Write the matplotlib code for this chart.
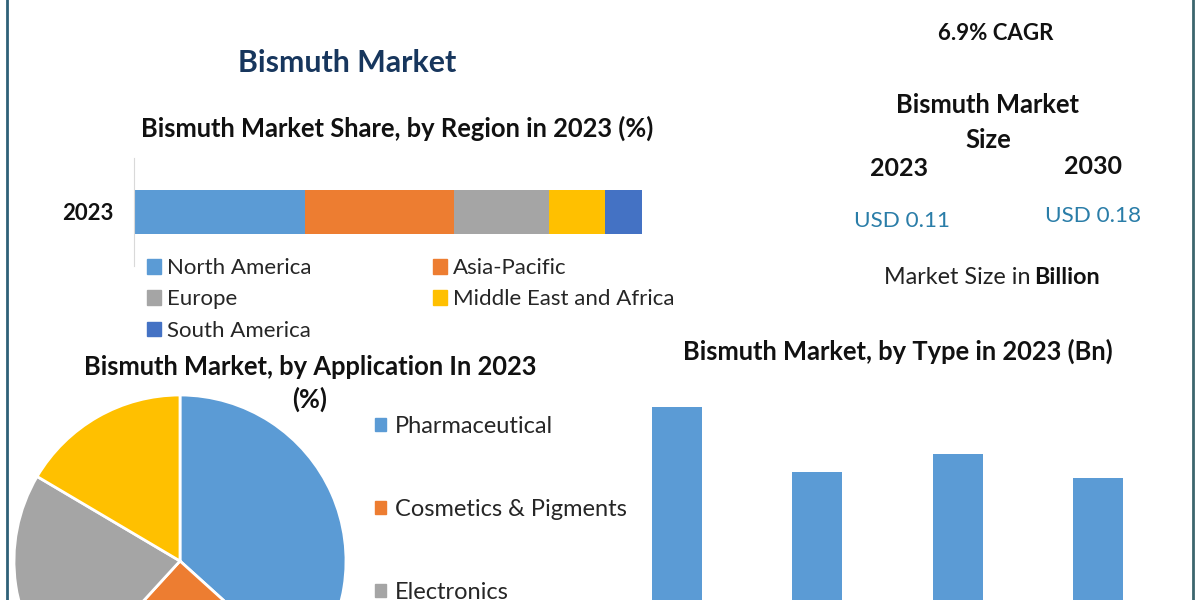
#!/usr/bin/env python3
"""Bismuth market infographic, laid out in pixels on a 1200x600 canvas."""

import matplotlib
matplotlib.use("Agg")
import matplotlib.pyplot as plt
from matplotlib.lines import Line2D
from matplotlib.patches import Patch

W, H = 1200, 600

BLUE = "#5B9BD5"
ORANGE = "#ED7D31"
GRAY = "#A5A5A5"
YELLOW = "#FFC000"
DARK_BLUE = "#4472C4"

region_names = ["North America", "Asia-Pacific", "Europe", "Middle East and Africa", "South America"]
region_share = [33.6, 29.3, 18.7, 11.2, 7.2]
region_colors = [BLUE, ORANGE, GRAY, YELLOW, DARK_BLUE]

app_names = ["Pharmaceutical", "Cosmetics & Pigments", "Electronics"]
app_share = [36.7, 25.1, 21.7, 16.5]
app_colors = [BLUE, ORANGE, GRAY, YELLOW]

type_values = [0.0336, 0.0250, 0.0273, 0.0242]

plt.rcParams["font.family"] = ["Lato", "DejaVu Sans"]

fig = plt.figure(figsize=(W / 100, H / 100), dpi=100, facecolor="white")


def px_axes(left, top, right, bottom):
    # axes from pixel box (y measured from the top of the image)
    return fig.add_axes([left / W, 1 - bottom / H, (right - left) / W, (bottom - top) / H])


def label(x, y, s, size=18.4, weight="bold", color="#111111", ha="center"):
    return fig.text(x / W, 1 - y / H, s, fontsize=size, fontweight=weight, color=color,
                    ha=ha, va="center")


# frame lines left and right
fig.add_artist(Line2D([6.5 / W, 6.5 / W], [0, 1], color="#2F6178", lw=2))
fig.add_artist(Line2D([1192.5 / W, 1192.5 / W], [0, 1], color="#3C666E", lw=2))

# titles and size block
label(347, 63, "Bismuth Market", size=21.8, color="#17365D")
label(397, 128, "Bismuth Market Share, by Region in 2023 (%)")
label(996, 34, "6.9% CAGR", size=16)
label(988, 105, "Bismuth Market")
label(988, 140, "Size")
label(899, 168, "2023", size=18)
label(1093, 167, "2030", size=18)
label(902, 221, "USD 0.11", size=16.2, weight="normal", color="#2A7DA8")
label(1093, 216, "USD 0.18", size=16.2, weight="normal", color="#2A7DA8")
label(1030, 277, "Market Size in", size=16.8, weight="normal", color="#222222", ha="right")
label(1034, 277, "Billion", size=16.8, ha="left")
label(310, 367, "Bismuth Market, by Application In 2023")
label(310, 399, "(%)")
label(898, 351, "Bismuth Market, by Type in 2023 (Bn)")

# stacked region bar
ax_bar = px_axes(134, 158, 642, 266)
left = 0
for name, share, color in zip(region_names, region_share, region_colors):
    ax_bar.barh(0, share, left=left, height=0.407, color=color, label=name)
    left += share
ax_bar.set_xlim(0, 100)
ax_bar.set_ylim(-0.5, 0.5)
ax_bar.set_yticks([0])
ax_bar.set_yticklabels(["2023"], fontsize=16, fontweight="bold", color="#111111")
ax_bar.tick_params(axis="y", length=0, pad=15)
ax_bar.set_xticks([])
for side in ["top", "right", "bottom"]:
    ax_bar.spines[side].set_visible(False)
ax_bar.spines["left"].set_color("#D9D9D9")

# legend reads across the rows in the source, matplotlib fills by column
order = [0, 2, 4, 1, 3]
fig.legend(
    [Patch(color=region_colors[i]) for i in order],
    [region_names[i] for i in order],
    ncol=2, loc="upper left", bbox_to_anchor=(147 / W, 1 - 258 / H), frameon=False,
    fontsize=16, labelcolor="#262626", handlelength=0.64, handleheight=0.64,
    handletextpad=0.27, labelspacing=0.51, columnspacing=5.45, borderpad=0, borderaxespad=0,
)

# pie runs off the bottom of the image
ax_pie = px_axes(14, 395, 346, 727)
ax_pie.pie(app_share, colors=app_colors, startangle=90, counterclock=False, radius=1,
           wedgeprops={"edgecolor": "white", "linewidth": 2})
ax_pie.set_xlim(-1, 1)
ax_pie.set_ylim(-1, 1)

fig.legend(
    [Patch(color=c) for c in app_colors[:3]], app_names,
    loc="upper left", bbox_to_anchor=(375 / W, 1 - 416 / H), frameon=False,
    fontsize=17, labelcolor="#262626", handlelength=0.47, handleheight=0.47,
    handletextpad=0.36, labelspacing=2.62, borderpad=0, borderaxespad=0,
)

# type bars, baseline sits below the image edge
ax_type = px_axes(607, 400, 1168, 660)
ax_type.bar(range(4), type_values, width=0.355, color=BLUE)
ax_type.set_xlim(-0.5, 3.5)
ax_type.set_ylim(0, 260 / 253 * type_values[0])
ax_type.axis("off")

fig.savefig("out.png", dpi=100, facecolor="white")
